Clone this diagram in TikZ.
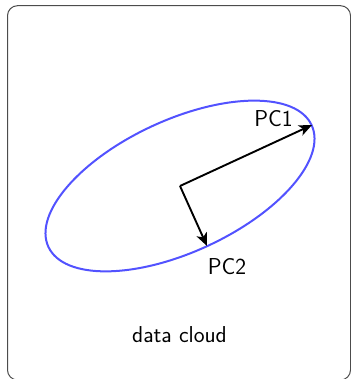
\documentclass[tikz,border=0pt]{standalone}
\usetikzlibrary{arrows.meta}
\begin{document}
\begin{tikzpicture}[x=1pt,y=1pt,
  every node/.style={font=\sffamily\fontsize{23}{27}\selectfont, text=black},
  pcarrow/.style={draw=black, line width=1.9pt, -{Stealth[length=13pt,width=11pt,inset=3.5pt]}},
  cloud/.style={draw=blue!68!white, line width=2pt}]
\useasboundingbox (0,0) rectangle (350,379);
\draw[black!70, line width=1pt, rounded corners=10pt] (7.5,-1) rectangle (350.5,373.3);
\coordinate (c) at (180,193);
\draw[cloud] (c) ellipse[x radius=145, y radius=66, rotate=24.8];
\coordinate (p1) at (312,254);
\coordinate (p2) at (207,133);
\draw[pcarrow] (c) -- (p1);
\draw[pcarrow] (c) -- (p2);
\node (l1) at (273.5,260) {PC1};
\node (l2) at (227,112) {PC2};
\node (dc) at (179.5,44) {data cloud};
\end{tikzpicture}
\end{document}
